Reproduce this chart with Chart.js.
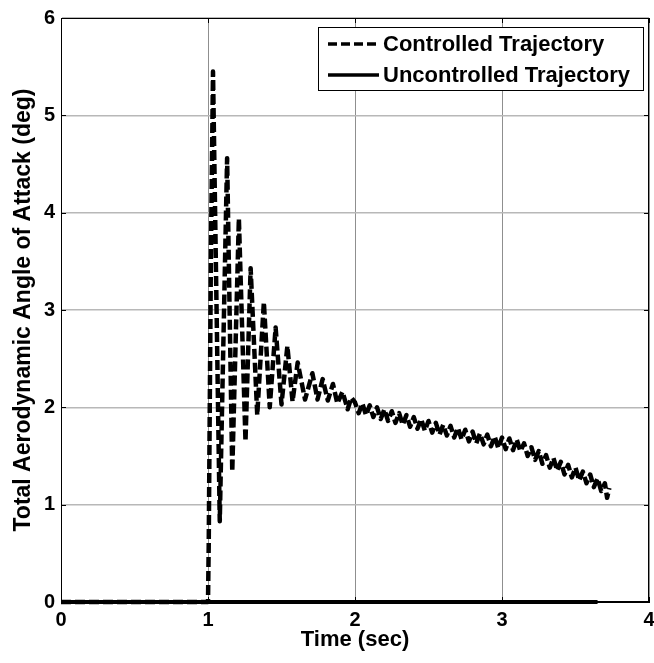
<!DOCTYPE html>
<html>
<head>
<meta charset="utf-8">
<script src="https://cdn.jsdelivr.net/npm/chart.js@4.4.1/dist/chart.umd.min.js"></script>
<style>
  html, body { margin: 0; padding: 0; background: #fff; }
  #wrap { width: 654px; height: 663px; }
</style>
</head>
<body>
<div id="wrap"><canvas id="aoaChart" width="654" height="663"></canvas></div>
<script>
// values
var xTicks = [0, 1, 2, 3, 4];
var yTicks = [0, 1, 2, 3, 4, 5, 6];
var seriesNames = ["Controlled Trajectory", "Uncontrolled Trajectory"];

// controlled trajectory: time (sec) / total AoA (deg)
var ctrlTime = [0, 1.0, 1.005, 1.02, 1.034, 1.08, 1.13, 1.165, 1.21, 1.255, 1.29, 1.335, 1.38, 1.42, 1.46, 1.50, 1.54, 1.575, 1.61, 1.66, 1.71, 1.745, 1.78, 1.815, 1.85, 1.88, 1.915, 1.95, 1.975,
  2.000, 2.025, 2.050, 2.075, 2.100, 2.125, 2.150, 2.175, 2.200, 2.225, 2.250, 2.275, 2.300, 2.325, 2.350, 2.375, 2.400, 2.425, 2.450, 2.475,
  2.500, 2.525, 2.550, 2.575, 2.600, 2.625, 2.650, 2.675, 2.700, 2.725, 2.750, 2.775, 2.800, 2.825, 2.850, 2.875, 2.900, 2.925, 2.950, 2.975,
  3.000, 3.025, 3.050, 3.075, 3.100, 3.125, 3.150, 3.175, 3.200, 3.225, 3.250, 3.275, 3.300, 3.325, 3.350, 3.375, 3.400, 3.425, 3.450, 3.475,
  3.500, 3.525, 3.550, 3.575, 3.600, 3.625, 3.650, 3.675, 3.700, 3.715, 3.730];
var ctrlAoa = [0, 0, 0.6, 3.6, 5.45, 0.83, 4.56, 1.34, 3.94, 1.65, 3.43, 1.92, 3.08, 2.00, 2.82, 2.03, 2.63, 2.06, 2.46, 2.08, 2.35, 2.08, 2.29, 2.07, 2.24, 2.04, 2.16, 1.98, 2.10,
  2.05, 1.94, 2.04, 1.92, 2.02, 1.90, 2.00, 1.88, 1.98, 1.86, 1.96, 1.84, 1.94, 1.82, 1.92, 1.80, 1.90, 1.78, 1.88, 1.76,
  1.86, 1.74, 1.84, 1.72, 1.82, 1.71, 1.81, 1.69, 1.79, 1.67, 1.77, 1.65, 1.75, 1.63, 1.73, 1.62, 1.72, 1.60, 1.70, 1.58,
  1.69, 1.57, 1.68, 1.56, 1.67, 1.55, 1.63, 1.50, 1.59, 1.46, 1.55, 1.42, 1.51, 1.38, 1.48, 1.35, 1.44, 1.31, 1.41, 1.28,
  1.38, 1.25, 1.34, 1.22, 1.31, 1.18, 1.27, 1.14, 1.22, 1.07, 1.17];

// uncontrolled trajectory stays at zero
var unctrlTime = [0, 3.65];
var unctrlAoa = [0, 0];

function pairs(xs, ys) {
  var out = [];
  for (let i = 0; i < xs.length; i++) out.push({x: xs[i], y: ys[i]});
  return out;
}

var FONT = "'Liberation Sans', Arial, sans-serif";

// box round the plot + inward ticks, matlab style
var boxPlugin = {
  id: 'box',
  afterDatasetsDraw: function(chart) {
    var ctx = chart.ctx, a = chart.chartArea;
    var sx = chart.scales.x, sy = chart.scales.y;
    ctx.save();
    ctx.strokeStyle = '#000';
    ctx.lineWidth = 1;
    ctx.strokeRect(a.left + 0.5, a.top + 0.5, a.right - a.left - 1, a.bottom - a.top - 1);
    ctx.beginPath();
    xTicks.forEach(function(v) {
      var px = Math.round(sx.getPixelForValue(v)) + 0.5;
      ctx.moveTo(px, a.bottom); ctx.lineTo(px, a.bottom - 5);
      ctx.moveTo(px, a.top); ctx.lineTo(px, a.top + 5);
    });
    yTicks.forEach(function(v) {
      var py = Math.round(sy.getPixelForValue(v)) + 0.5;
      ctx.moveTo(a.left, py); ctx.lineTo(a.left + 5, py);
      ctx.moveTo(a.right, py); ctx.lineTo(a.right - 5, py);
    });
    ctx.stroke();
    ctx.restore();
  }
};

// legend drawn as a boxed inset in the top right corner
var legendPlugin = {
  id: 'insetLegend',
  afterDraw: function(chart) {
    var ctx = chart.ctx, a = chart.chartArea;
    var w = 325, h = 63;
    var x0 = a.right - 6 - w, y0 = a.top + 9;
    ctx.save();
    ctx.fillStyle = '#fff';
    ctx.fillRect(x0, y0, w, h);
    ctx.strokeStyle = '#000';
    ctx.lineWidth = 1;
    ctx.strokeRect(x0 + 0.5, y0 + 0.5, w, h);
    chart.data.datasets.forEach(function(ds, i) {
      var cy = y0 + 17 + i * 31;
      ctx.beginPath();
      ctx.lineWidth = 3.5;
      ctx.setLineDash(ds.borderDash ? [9, 4] : []);
      ctx.moveTo(x0 + 10, cy);
      ctx.lineTo(x0 + 61, cy);
      ctx.stroke();
      ctx.setLineDash([]);
      ctx.fillStyle = '#000';
      ctx.font = 'bold 22px ' + FONT;
      ctx.textBaseline = 'middle';
      ctx.fillText(ds.label, x0 + 65, cy + 1);
    });
    ctx.restore();
  }
};

var aoaChart = new Chart(document.getElementById('aoaChart'), {
  type: 'line',
  data: {
    datasets: [{
      label: seriesNames[0],
      data: pairs(ctrlTime, ctrlAoa),
      borderColor: '#000',
      borderWidth: 4.5,
      borderDash: [10, 4],
      borderJoinStyle: 'round',
      pointRadius: 0,
      tension: 0,
      fill: false,
      clip: false
    }, {
      label: seriesNames[1],
      data: pairs(unctrlTime, unctrlAoa),
      borderColor: '#000',
      borderWidth: 4,
      pointRadius: 0,
      tension: 0,
      fill: false,
      clip: false
    }]
  },
  options: {
    responsive: false,
    animation: false,
    layout: { padding: { top: 17, right: 0, left: 0, bottom: 0 } },
    plugins: {
      legend: { display: false },
      tooltip: { enabled: false }
    },
    scales: {
      x: {
        type: 'linear',
        min: 0, max: 4,
        afterBuildTicks: function(s) { s.ticks = xTicks.map(function(v) { return {value: v}; }); },
        afterFit: function(s) { s.height = 61; s.paddingRight = 5; s.paddingLeft = 0; },
        grid: { color: '#8f8f8f', lineWidth: 1, drawTicks: false },
        border: { color: '#000' },
        ticks: { color: '#000', padding: 6, font: { family: FONT, size: 20, weight: 'bold' } },
        title: { display: true, text: 'Time (sec)', color: '#000', padding: { top: 0, bottom: 10 },
          font: { family: FONT, size: 22, weight: 'bold' } }
      },
      y: {
        type: 'linear',
        min: 0, max: 6,
        afterBuildTicks: function(s) { s.ticks = yTicks.map(function(v) { return {value: v}; }); },
        afterFit: function(s) { s.width = 61; },
        grid: { color: '#b8b8b8', lineWidth: 1.5, drawTicks: false },
        border: { color: '#000' },
        ticks: { color: '#000', padding: 6, font: { family: FONT, size: 20, weight: 'bold' } },
        title: { display: true, text: 'Total Aerodynamic Angle of Attack (deg)', color: '#000', padding: { top: 10, bottom: 0 },
          font: { family: FONT, size: 23, weight: 'bold' } }
      }
    }
  },
  plugins: [boxPlugin, legendPlugin]
});
</script>
</body>
</html>
